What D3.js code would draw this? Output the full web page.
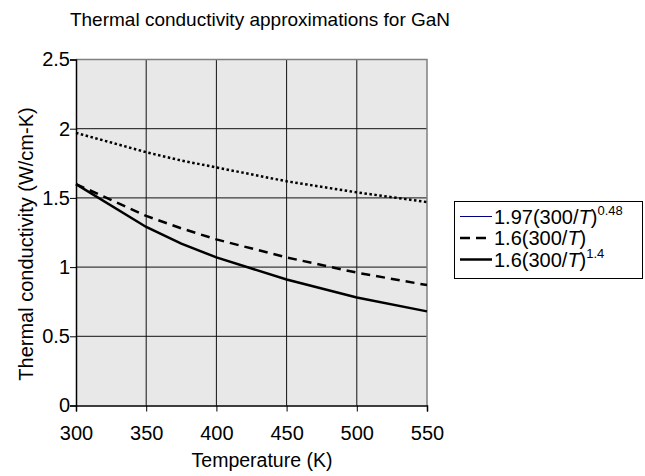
<!DOCTYPE html>
<html>
<head>
<meta charset="utf-8">
<script src="https://cdn.jsdelivr.net/npm/d3@7"></script>
<style>
  html, body { margin: 0; padding: 0; background: #fff; }
  svg { display: block; font-family: "Liberation Sans", Arial, sans-serif; }
</style>
</head>
<body>
<svg id="chart" width="645" height="476"></svg>
<script>
// Temperatures sampled (K)
const temperatures = [300, 350, 375, 400, 450, 500, 550];
// 1.97(300/T)^0.48
const powerFit048 = [1.97, 1.83, 1.77, 1.72, 1.62, 1.54, 1.47];
// 1.6(300/T)
const inverseT = [1.60, 1.37, 1.28, 1.20, 1.07, 0.96, 0.87];
// 1.6(300/T)^1.4
const powerFit14 = [1.60, 1.29, 1.17, 1.07, 0.91, 0.78, 0.68];

const xTicks = [300, 350, 400, 450, 500, 550];
const yTicks = [0, 0.5, 1, 1.5, 2, 2.5];
const yTickLabels = ["0", "0.5", "1", "1.5", "2", "2.5"];

const FONT = "Liberation Sans, Arial, sans-serif";
const svg = d3.select("#chart");
const plot = { left: 76, right: 427, top: 59.5, bottom: 405.5 };

const x = d3.scaleLinear().domain([300, 550]).range([plot.left, plot.right]);
const y = d3.scaleLinear().domain([0, 2.5]).range([plot.bottom, plot.top]);

// Title
svg.append("text")
  .attr("x", 260).attr("y", 26)
  .attr("text-anchor", "middle")
  .attr("font-size", 19)
  .text("Thermal conductivity approximations for GaN");

// Plot background
svg.append("rect")
  .attr("x", plot.left).attr("y", plot.top)
  .attr("width", plot.right - plot.left).attr("height", plot.bottom - plot.top)
  .attr("fill", "#e8e8e8");

// Grid lines
const grid = svg.append("g");
grid.selectAll("line.v").data(xTicks.slice(1, -1)).join("line")
  .attr("x1", d => x(d)).attr("x2", d => x(d))
  .attr("y1", plot.top).attr("y2", plot.bottom)
  .attr("stroke", "#111").attr("stroke-width", 1);
grid.selectAll("line.h").data(yTicks.slice(1, -1)).join("line")
  .attr("x1", plot.left).attr("x2", plot.right)
  .attr("y1", d => y(d)).attr("y2", d => y(d))
  .attr("stroke", "#111").attr("stroke-width", 1);

// Frame: top and right in grey
svg.append("path")
  .attr("d", `M${plot.left},${plot.top}H${plot.right}V${plot.bottom}`)
  .attr("fill", "none").attr("stroke", "#808080").attr("stroke-width", 1.5);

// Axes
const xAxis = d3.axisBottom(x).tickValues(xTicks).tickSize(6).tickPadding(4)
  .tickFormat(d3.format("d"));
const gx = svg.append("g").attr("transform", `translate(0,${plot.bottom})`).call(xAxis);
gx.select(".domain").attr("stroke", "#000").attr("stroke-width", 1.5);
gx.selectAll(".tick line").attr("stroke", "#000");
gx.selectAll(".tick text").attr("font-size", 20).attr("font-family", FONT)
  .attr("fill", "#000").attr("dy", null).attr("y", 34);

const yAxis = d3.axisLeft(y).tickValues(yTicks).tickSize(6).tickPadding(0)
  .tickFormat((d, i) => yTickLabels[i]);
const gy = svg.append("g").attr("transform", `translate(${plot.left},0)`).call(yAxis);
gy.select(".domain").attr("stroke", "#000").attr("stroke-width", 1.5);
gy.selectAll(".tick line").attr("stroke", "#000");
gy.selectAll(".tick text").attr("font-size", 20).attr("font-family", FONT).attr("fill", "#000");

// Axis titles
svg.append("text")
  .attr("x", 262).attr("y", 467)
  .attr("text-anchor", "middle").attr("font-size", 19.5)
  .text("Temperature (K)");
svg.append("text")
  .attr("transform", `translate(33,244) rotate(-90)`)
  .attr("text-anchor", "middle").attr("font-size", 20)
  .text("Thermal conductivity (W/cm-K)");

// Series lines
const line = d3.line().x((d, i) => x(temperatures[i])).y(d => y(d));
const series = [
  { values: powerFit048, dash: "2.5,2.5" },
  { values: inverseT, dash: "9,6" },
  { values: powerFit14, dash: null }
];
svg.append("g").selectAll("path").data(series).join("path")
  .attr("d", d => line(d.values))
  .attr("fill", "none").attr("stroke", "#000").attr("stroke-width", 2.5)
  .attr("stroke-dasharray", d => d.dash);

// Legend
const lg = svg.append("g");
lg.append("rect")
  .attr("x", 454.5).attr("y", 201.5).attr("width", 188).attr("height", 77)
  .attr("fill", "#fff").attr("stroke", "#000").attr("stroke-width", 1);

const legendItems = [
  { base: "1.97(300/", sup: "0.48", stroke: "#000080", width: 1, dash: null },
  { base: "1.6(300/", sup: null, stroke: "#000", width: 2.5, dash: "10,6" },
  { base: "1.6(300/", sup: "1.4", stroke: "#000", width: 2.5, dash: null }
];
legendItems.forEach((it, i) => {
  const base = 223.5 + i * 21.5;
  lg.append("line")
    .attr("x1", 460).attr("x2", 492).attr("y1", base - 7).attr("y2", base - 7)
    .attr("stroke", it.stroke).attr("stroke-width", it.width)
    .attr("stroke-dasharray", it.dash);
  const t = lg.append("text").attr("x", 494).attr("y", base).attr("font-size", 20);
  t.append("tspan").text(it.base);
  t.append("tspan").attr("font-style", "italic").text("T");
  t.append("tspan").text(")");
  if (it.sup) {
    t.append("tspan").attr("font-size", 13).attr("dy", -9).text(it.sup);
  }
});
</script>
</body>
</html>
